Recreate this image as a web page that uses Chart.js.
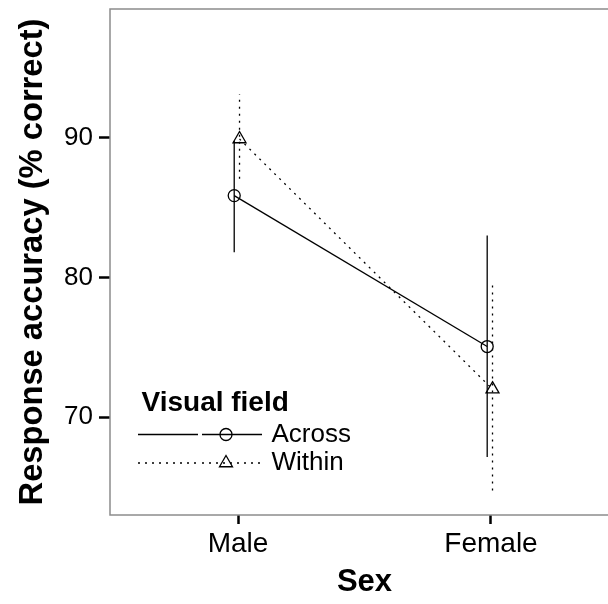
<!DOCTYPE html>
<html>
<head>
<meta charset="utf-8">
<script src="https://cdn.jsdelivr.net/npm/chart.js@4"></script>
<style>
  html, body { margin: 0; padding: 0; background: #fff; overflow: hidden; }
  #wrap { width: 620px; height: 604px; }
</style>
</head>
<body>
<div id="wrap"><canvas id="c" width="620" height="604"></canvas></div>
<script>
// Response accuracy by sex and visual field (means with intervals)
const sexes = ['Male', 'Female'];
const fields = ['Across', 'Within'];

const acrossMean = [85.85, 75.05];
const acrossLow  = [81.8, 67.15];
const acrossHigh = [89.75, 83.0];

const withinMean = [89.9, 72.0];
const withinLow  = [87.05, 64.75];
const withinHigh = [93.1, 79.75];

const yTicks = [70, 80, 90];

// horizontal dodge of the two groups around each category
const DODGE = { Across: -0.015, Within: 0.006 };

const FONT = "'Liberation Sans', Arial, Helvetica, sans-serif";
const LINE_W = 1.3;

const xPos = (i, field) => i + 1 + DODGE[field];

function meanPoints(means, field) {
  return means.map((v, i) => ({ x: xPos(i, field), y: v }));
}

function barDatasets(lows, highs, field, dash) {
  return lows.map((lo, i) => ({
    label: field + ' ' + sexes[i],
    data: [{ x: xPos(i, field), y: lo }, { x: xPos(i, field), y: highs[i] }],
    borderColor: '#000',
    borderWidth: LINE_W,
    borderDash: dash,
    pointRadius: 0,
    fill: false
  }));
}

const SOLID = [];
const DOTTED = [2, 5];

const datasets = [
  {
    label: fields[0],
    data: meanPoints(acrossMean, 'Across'),
    borderColor: '#000',
    borderWidth: LINE_W,
    pointStyle: 'circle',
    pointRadius: 6,
    pointBorderWidth: 1.3,
    pointBorderColor: '#000',
    pointBackgroundColor: 'rgba(0,0,0,0)',
    fill: false
  },
  {
    label: fields[1],
    data: meanPoints(withinMean, 'Within'),
    borderColor: '#000',
    borderWidth: LINE_W,
    borderDash: DOTTED,
    pointStyle: 'triangle',
    pointRadius: 7.5,
    pointBorderWidth: 1.3,
    pointBorderColor: '#000',
    pointBackgroundColor: 'rgba(0,0,0,0)',
    fill: false
  },
  ...barDatasets(acrossLow, acrossHigh, 'Across', SOLID),
  ...barDatasets(withinLow, withinHigh, 'Within', DOTTED)
];

// panel frame drawn over the plotting area
const panelFrame = {
  id: 'panelFrame',
  afterDatasetsDraw(chart) {
    const { ctx, chartArea: a } = chart;
    ctx.save();
    ctx.strokeStyle = '#8c8c8c';
    ctx.lineWidth = 1.5;
    ctx.strokeRect(a.left, a.top, a.right - a.left, a.bottom - a.top);
    ctx.restore();
  }
};

// legend with title and line + marker keys
const fieldLegend = {
  id: 'fieldLegend',
  afterDraw(chart) {
    const { ctx, chartArea: a } = chart;
    const x0 = a.left + 28;
    const rows = [a.top + 425.5, a.top + 454];
    ctx.save();
    ctx.fillStyle = '#000';
    ctx.textAlign = 'left';
    ctx.textBaseline = 'alphabetic';
    ctx.font = 'bold 28px ' + FONT;
    ctx.fillText('Visual field', x0 + 3.5, a.top + 401.5);

    const keys = [
      { name: fields[0], dash: SOLID, style: 'circle', r: 6 },
      { name: fields[1], dash: DOTTED, style: 'triangle', r: 7.5 }
    ];
    keys.forEach((k, j) => {
      const y = rows[j];
      ctx.strokeStyle = '#000';
      ctx.lineWidth = LINE_W;
      ctx.setLineDash(k.dash);
      ctx.beginPath();
      ctx.moveTo(x0, y); ctx.lineTo(x0 + 60, y);
      ctx.moveTo(x0 + 64, y); ctx.lineTo(x0 + 124, y);
      ctx.stroke();
      ctx.setLineDash([]);
      ctx.fillStyle = 'rgba(0,0,0,0)';
      ctx.lineWidth = 1.3;
      Chart.helpers.drawPoint(ctx, {
        pointStyle: k.style, radius: k.r, rotation: 0, borderWidth: 1.3
      }, x0 + 88, y);
      ctx.fillStyle = '#000';
      ctx.font = '26px ' + FONT;
      ctx.textBaseline = 'middle';
      ctx.fillText(k.name, x0 + 133.5, y);
      ctx.textBaseline = 'alphabetic';
    });
    ctx.restore();
  }
};

new Chart(document.getElementById('c'), {
  type: 'line',
  data: { datasets },
  options: {
    responsive: false,
    animation: false,
    devicePixelRatio: 1,
    layout: { autoPadding: false, padding: { top: 9, right: 1, left: 0, bottom: 0 } },
    plugins: {
      legend: { display: false },
      tooltip: { enabled: false }
    },
    scales: {
      x: {
        type: 'linear',
        min: 0.494,
        max: 2.506,
        afterBuildTicks(scale) { scale.ticks = sexes.map((s, i) => ({ value: i + 1 })); },
        afterFit(scale) {
          scale.height = 89;
          scale.paddingLeft = 0;
          scale.paddingRight = 0;
        },
        ticks: {
          callback: (v) => sexes[Math.round(v) - 1] || '',
          color: '#000',
          font: { family: FONT, size: 28 },
          padding: 3,
          maxRotation: 0,
          autoSkip: false
        },
        grid: { drawOnChartArea: false, tickLength: 9, tickWidth: 2.5, tickColor: '#000' },
        border: { display: false },
        title: {
          display: true,
          text: 'Sex',
          color: '#000',
          font: { family: FONT, size: 31, weight: 'bold' },
          padding: { top: 0, bottom: 3 }
        }
      },
      y: {
        type: 'linear',
        min: 63.0,
        max: 99.2,
        afterBuildTicks(scale) { scale.ticks = yTicks.map(v => ({ value: v })); },
        afterFit(scale) {
          scale.width = 110;
          scale.paddingTop = 0;
          scale.paddingBottom = 0;
        },
        ticks: {
          color: '#000',
          font: { family: FONT, size: 26 },
          padding: 6
        },
        grid: { drawOnChartArea: false, tickLength: 11, tickWidth: 2.5, tickColor: '#000' },
        border: { display: false },
        title: {
          display: true,
          text: 'Response accuracy (% correct)',
          color: '#000',
          font: { family: FONT, size: 32.7, weight: 'bold' },
          padding: { top: 13.5, bottom: 0 }
        }
      }
    }
  },
  plugins: [panelFrame, fieldLegend]
});
</script>
</body>
</html>
